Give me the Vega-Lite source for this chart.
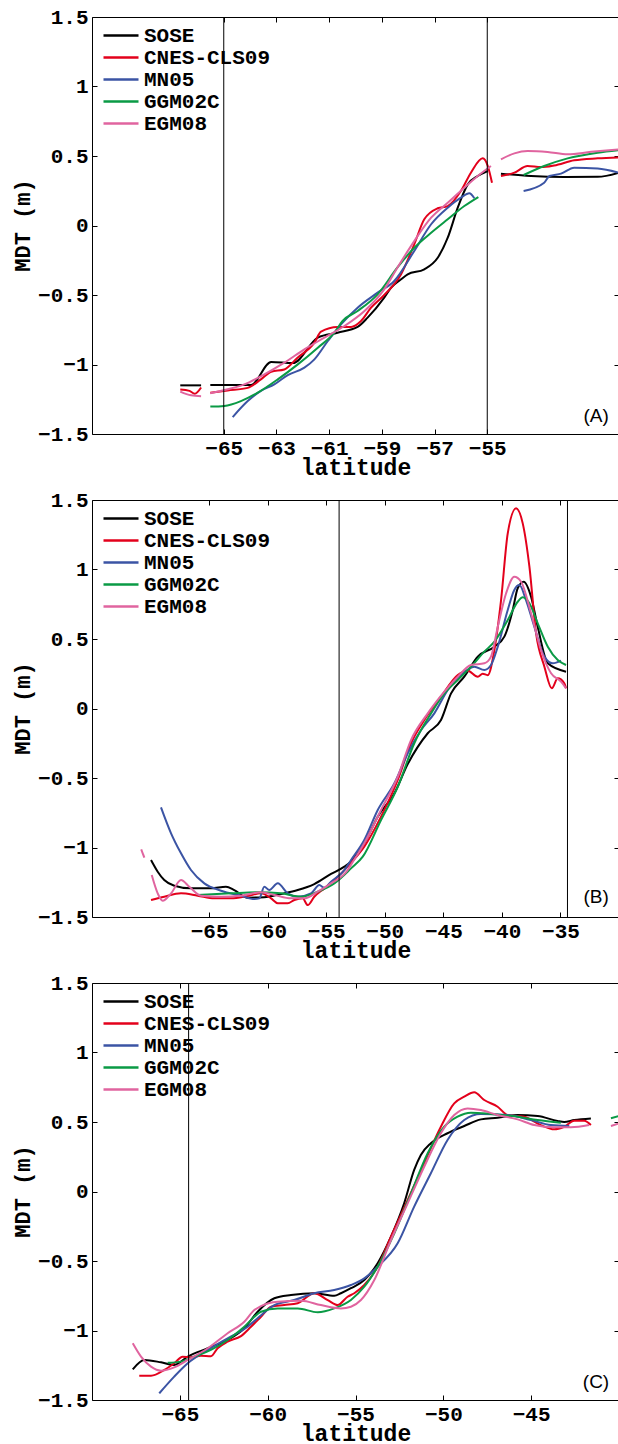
{
"$schema": "https://vega.github.io/schema/vega-lite/v6.json",
"autosize": {"type": "pad"},
"padding": {"left": 10, "top": 5, "right": 0, "bottom": 0},
"background": "white",
"bounds": "flush",
"spacing": 66,
"datasets": {
"curves": [
{"p":"A","m":"SOSE","s":1,"lat":-66.65,"mdt":-1.15},{"p":"A","m":"SOSE","s":1,"lat":-65.86,"mdt":-1.15},
{"p":"A","m":"SOSE","s":2,"lat":-65.51,"mdt":-1.147},{"p":"A","m":"SOSE","s":2,"lat":-63.97,"mdt":-1.147},{"p":"A","m":"SOSE","s":2,"lat":-63.2,"mdt":-0.982},{"p":"A","m":"SOSE","s":2,"lat":-62.38,"mdt":-0.99},{"p":"A","m":"SOSE","s":2,"lat":-61.43,"mdt":-0.807},{"p":"A","m":"SOSE","s":2,"lat":-60.68,"mdt":-0.771},{"p":"A","m":"SOSE","s":2,"lat":-59.92,"mdt":-0.73},{"p":"A","m":"SOSE","s":2,"lat":-59.54,"mdt":-0.663},{"p":"A","m":"SOSE","s":2,"lat":-58.91,"mdt":-0.519},{"p":"A","m":"SOSE","s":2,"lat":-58.65,"mdt":-0.447},{"p":"A","m":"SOSE","s":2,"lat":-58.27,"mdt":-0.387},{"p":"A","m":"SOSE","s":2,"lat":-58.02,"mdt":-0.351},{"p":"A","m":"SOSE","s":2,"lat":-57.39,"mdt":-0.315},{"p":"A","m":"SOSE","s":2,"lat":-56.88,"mdt":-0.232},{"p":"A","m":"SOSE","s":2,"lat":-56.5,"mdt":-0.088},{"p":"A","m":"SOSE","s":2,"lat":-56.12,"mdt":0.128},{"p":"A","m":"SOSE","s":2,"lat":-55.74,"mdt":0.296},{"p":"A","m":"SOSE","s":2,"lat":-55.36,"mdt":0.356},{"p":"A","m":"SOSE","s":2,"lat":-54.98,"mdt":0.392},
{"p":"A","m":"SOSE","s":3,"lat":-54.48,"mdt":0.373},{"p":"A","m":"SOSE","s":3,"lat":-53.34,"mdt":0.356},{"p":"A","m":"SOSE","s":3,"lat":-52.08,"mdt":0.349},{"p":"A","m":"SOSE","s":3,"lat":-50.81,"mdt":0.35},{"p":"A","m":"SOSE","s":3,"lat":-50,"mdt":0.38},
{"p":"A","m":"CNES-CLS09","s":1,"lat":-66.65,"mdt":-1.18},{"p":"A","m":"CNES-CLS09","s":1,"lat":-66.3,"mdt":-1.19},{"p":"A","m":"CNES-CLS09","s":1,"lat":-66.1,"mdt":-1.21},{"p":"A","m":"CNES-CLS09","s":1,"lat":-65.86,"mdt":-1.165},
{"p":"A","m":"CNES-CLS09","s":2,"lat":-65.51,"mdt":-1.203},{"p":"A","m":"CNES-CLS09","s":2,"lat":-64.85,"mdt":-1.187},{"p":"A","m":"CNES-CLS09","s":2,"lat":-64.09,"mdt":-1.168},{"p":"A","m":"CNES-CLS09","s":2,"lat":-63.59,"mdt":-1.107},{"p":"A","m":"CNES-CLS09","s":2,"lat":-63.2,"mdt":-1.052},{"p":"A","m":"CNES-CLS09","s":2,"lat":-62.7,"mdt":-1.036},{"p":"A","m":"CNES-CLS09","s":2,"lat":-62.2,"mdt":-0.951},{"p":"A","m":"CNES-CLS09","s":2,"lat":-61.56,"mdt":-0.843},{"p":"A","m":"CNES-CLS09","s":2,"lat":-61.31,"mdt":-0.764},{"p":"A","m":"CNES-CLS09","s":2,"lat":-60.68,"mdt":-0.73},{"p":"A","m":"CNES-CLS09","s":2,"lat":-60.17,"mdt":-0.73},{"p":"A","m":"CNES-CLS09","s":2,"lat":-59.79,"mdt":-0.687},{"p":"A","m":"CNES-CLS09","s":2,"lat":-59.41,"mdt":-0.591},{"p":"A","m":"CNES-CLS09","s":2,"lat":-58.91,"mdt":-0.5},{"p":"A","m":"CNES-CLS09","s":2,"lat":-58.27,"mdt":-0.35},{"p":"A","m":"CNES-CLS09","s":2,"lat":-57.77,"mdt":-0.135},{"p":"A","m":"CNES-CLS09","s":2,"lat":-57.39,"mdt":0.045},{"p":"A","m":"CNES-CLS09","s":2,"lat":-56.88,"mdt":0.124},{"p":"A","m":"CNES-CLS09","s":2,"lat":-56.5,"mdt":0.14},{"p":"A","m":"CNES-CLS09","s":2,"lat":-56.0,"mdt":0.248},{"p":"A","m":"CNES-CLS09","s":2,"lat":-55.62,"mdt":0.38},{"p":"A","m":"CNES-CLS09","s":2,"lat":-55.17,"mdt":0.483},{"p":"A","m":"CNES-CLS09","s":2,"lat":-54.98,"mdt":0.428},{"p":"A","m":"CNES-CLS09","s":2,"lat":-54.82,"mdt":0.308},
{"p":"A","m":"CNES-CLS09","s":3,"lat":-54.48,"mdt":0.356},{"p":"A","m":"CNES-CLS09","s":3,"lat":-53.97,"mdt":0.38},{"p":"A","m":"CNES-CLS09","s":3,"lat":-53.47,"mdt":0.428},{"p":"A","m":"CNES-CLS09","s":3,"lat":-52.96,"mdt":0.42},{"p":"A","m":"CNES-CLS09","s":3,"lat":-52.46,"mdt":0.432},{"p":"A","m":"CNES-CLS09","s":3,"lat":-51.7,"mdt":0.469},{"p":"A","m":"CNES-CLS09","s":3,"lat":-50.81,"mdt":0.483},{"p":"A","m":"CNES-CLS09","s":3,"lat":-50,"mdt":0.49},
{"p":"A","m":"MN05","s":2,"lat":-64.66,"mdt":-1.378},{"p":"A","m":"MN05","s":2,"lat":-64.09,"mdt":-1.263},{"p":"A","m":"MN05","s":2,"lat":-63.59,"mdt":-1.19},{"p":"A","m":"MN05","s":2,"lat":-63.08,"mdt":-1.143},{"p":"A","m":"MN05","s":2,"lat":-62.57,"mdt":-1.076},{"p":"A","m":"MN05","s":2,"lat":-61.94,"mdt":-1.023},{"p":"A","m":"MN05","s":2,"lat":-61.56,"mdt":-0.963},{"p":"A","m":"MN05","s":2,"lat":-61.05,"mdt":-0.831},{"p":"A","m":"MN05","s":2,"lat":-60.55,"mdt":-0.711},{"p":"A","m":"MN05","s":2,"lat":-59.92,"mdt":-0.591},{"p":"A","m":"MN05","s":2,"lat":-59.16,"mdt":-0.483},{"p":"A","m":"MN05","s":2,"lat":-58.53,"mdt":-0.399},{"p":"A","m":"MN05","s":2,"lat":-57.77,"mdt":-0.183},{"p":"A","m":"MN05","s":2,"lat":-57.13,"mdt":0.009},{"p":"A","m":"MN05","s":2,"lat":-56.5,"mdt":0.128},{"p":"A","m":"MN05","s":2,"lat":-56.0,"mdt":0.2},{"p":"A","m":"MN05","s":2,"lat":-55.68,"mdt":0.232},{"p":"A","m":"MN05","s":2,"lat":-55.49,"mdt":0.196},
{"p":"A","m":"MN05","s":3,"lat":-53.62,"mdt":0.248},{"p":"A","m":"MN05","s":3,"lat":-52.84,"mdt":0.308},{"p":"A","m":"MN05","s":3,"lat":-52.64,"mdt":0.356},{"p":"A","m":"MN05","s":3,"lat":-52.2,"mdt":0.373},{"p":"A","m":"MN05","s":3,"lat":-51.7,"mdt":0.416},{"p":"A","m":"MN05","s":3,"lat":-50.81,"mdt":0.41},{"p":"A","m":"MN05","s":3,"lat":-50,"mdt":0.38},
{"p":"A","m":"GGM02C","s":2,"lat":-65.51,"mdt":-1.303},{"p":"A","m":"GGM02C","s":2,"lat":-64.98,"mdt":-1.298},{"p":"A","m":"GGM02C","s":2,"lat":-64.35,"mdt":-1.263},{"p":"A","m":"GGM02C","s":2,"lat":-63.71,"mdt":-1.203},{"p":"A","m":"GGM02C","s":2,"lat":-62.95,"mdt":-1.107},{"p":"A","m":"GGM02C","s":2,"lat":-62.19,"mdt":-0.999},{"p":"A","m":"GGM02C","s":2,"lat":-61.43,"mdt":-0.879},{"p":"A","m":"GGM02C","s":2,"lat":-60.8,"mdt":-0.771},{"p":"A","m":"GGM02C","s":2,"lat":-60.49,"mdt":-0.687},{"p":"A","m":"GGM02C","s":2,"lat":-59.92,"mdt":-0.615},{"p":"A","m":"GGM02C","s":2,"lat":-59.16,"mdt":-0.495},{"p":"A","m":"GGM02C","s":2,"lat":-58.4,"mdt":-0.3},{"p":"A","m":"GGM02C","s":2,"lat":-57.77,"mdt":-0.16},{"p":"A","m":"GGM02C","s":2,"lat":-57.13,"mdt":-0.052},{"p":"A","m":"GGM02C","s":2,"lat":-56.5,"mdt":0.045},{"p":"A","m":"GGM02C","s":2,"lat":-55.87,"mdt":0.14},{"p":"A","m":"GGM02C","s":2,"lat":-55.34,"mdt":0.205},
{"p":"A","m":"GGM02C","s":3,"lat":-53.62,"mdt":0.363},{"p":"A","m":"GGM02C","s":3,"lat":-52.84,"mdt":0.428},{"p":"A","m":"GGM02C","s":3,"lat":-51.95,"mdt":0.483},{"p":"A","m":"GGM02C","s":3,"lat":-50.81,"mdt":0.524},{"p":"A","m":"GGM02C","s":3,"lat":-50,"mdt":0.543},
{"p":"A","m":"EGM08","s":1,"lat":-66.65,"mdt":-1.195},{"p":"A","m":"EGM08","s":1,"lat":-66.24,"mdt":-1.222},{"p":"A","m":"EGM08","s":1,"lat":-65.86,"mdt":-1.228},
{"p":"A","m":"EGM08","s":2,"lat":-65.51,"mdt":-1.207},{"p":"A","m":"EGM08","s":2,"lat":-64.85,"mdt":-1.178},{"p":"A","m":"EGM08","s":2,"lat":-64.22,"mdt":-1.143},{"p":"A","m":"EGM08","s":2,"lat":-63.46,"mdt":-1.071},{"p":"A","m":"EGM08","s":2,"lat":-62.7,"mdt":-0.987},{"p":"A","m":"EGM08","s":2,"lat":-61.94,"mdt":-0.891},{"p":"A","m":"EGM08","s":2,"lat":-61.18,"mdt":-0.807},{"p":"A","m":"EGM08","s":2,"lat":-60.42,"mdt":-0.723},{"p":"A","m":"EGM08","s":2,"lat":-59.66,"mdt":-0.615},{"p":"A","m":"EGM08","s":2,"lat":-58.91,"mdt":-0.459},{"p":"A","m":"EGM08","s":2,"lat":-58.4,"mdt":-0.3},{"p":"A","m":"EGM08","s":2,"lat":-57.77,"mdt":-0.112},{"p":"A","m":"EGM08","s":2,"lat":-57.13,"mdt":0.056},{"p":"A","m":"EGM08","s":2,"lat":-56.5,"mdt":0.164},{"p":"A","m":"EGM08","s":2,"lat":-55.87,"mdt":0.272},{"p":"A","m":"EGM08","s":2,"lat":-55.36,"mdt":0.356},{"p":"A","m":"EGM08","s":2,"lat":-54.86,"mdt":0.428},
{"p":"A","m":"EGM08","s":3,"lat":-54.48,"mdt":0.476},{"p":"A","m":"EGM08","s":3,"lat":-53.97,"mdt":0.519},{"p":"A","m":"EGM08","s":3,"lat":-53.47,"mdt":0.536},{"p":"A","m":"EGM08","s":3,"lat":-52.71,"mdt":0.529},{"p":"A","m":"EGM08","s":3,"lat":-51.95,"mdt":0.512},{"p":"A","m":"EGM08","s":3,"lat":-51.06,"mdt":0.53},{"p":"A","m":"EGM08","s":3,"lat":-50,"mdt":0.548},

{"p":"B","m":"SOSE","s":1,"lat":-69.96,"mdt":-1.09},{"p":"B","m":"SOSE","s":1,"lat":-69.39,"mdt":-1.174},{"p":"B","m":"SOSE","s":1,"lat":-68.83,"mdt":-1.234},{"p":"B","m":"SOSE","s":1,"lat":-67.97,"mdt":-1.275},{"p":"B","m":"SOSE","s":1,"lat":-66.55,"mdt":-1.294},{"p":"B","m":"SOSE","s":1,"lat":-64.84,"mdt":-1.294},{"p":"B","m":"SOSE","s":1,"lat":-63.56,"mdt":-1.282},{"p":"B","m":"SOSE","s":1,"lat":-62.85,"mdt":-1.306},{"p":"B","m":"SOSE","s":1,"lat":-61.71,"mdt":-1.361},{"p":"B","m":"SOSE","s":1,"lat":-60.29,"mdt":-1.358},{"p":"B","m":"SOSE","s":1,"lat":-58.86,"mdt":-1.334},{"p":"B","m":"SOSE","s":1,"lat":-57.43,"mdt":-1.306},{"p":"B","m":"SOSE","s":1,"lat":-56.02,"mdt":-1.263},{"p":"B","m":"SOSE","s":1,"lat":-54.59,"mdt":-1.19},{"p":"B","m":"SOSE","s":1,"lat":-53.45,"mdt":-1.138},{"p":"B","m":"SOSE","s":1,"lat":-52.88,"mdt":-1.1},{"p":"B","m":"SOSE","s":1,"lat":-51.75,"mdt":-0.97},{"p":"B","m":"SOSE","s":1,"lat":-50.6,"mdt":-0.778},{"p":"B","m":"SOSE","s":1,"lat":-49.18,"mdt":-0.61},{"p":"B","m":"SOSE","s":1,"lat":-48.04,"mdt":-0.4},{"p":"B","m":"SOSE","s":1,"lat":-46.33,"mdt":-0.178},{"p":"B","m":"SOSE","s":1,"lat":-45.2,"mdt":-0.083},{"p":"B","m":"SOSE","s":1,"lat":-44.34,"mdt":0.109},{"p":"B","m":"SOSE","s":1,"lat":-43.21,"mdt":0.229},{"p":"B","m":"SOSE","s":1,"lat":-42.06,"mdt":0.373},{"p":"B","m":"SOSE","s":1,"lat":-40.64,"mdt":0.445},{"p":"B","m":"SOSE","s":1,"lat":-39.79,"mdt":0.517},{"p":"B","m":"SOSE","s":1,"lat":-39.07,"mdt":0.709},{"p":"B","m":"SOSE","s":1,"lat":-38.65,"mdt":0.865},{"p":"B","m":"SOSE","s":1,"lat":-38.13,"mdt":0.912},{"p":"B","m":"SOSE","s":1,"lat":-37.51,"mdt":0.804},{"p":"B","m":"SOSE","s":1,"lat":-36.94,"mdt":0.588},{"p":"B","m":"SOSE","s":1,"lat":-36.08,"mdt":0.325},{"p":"B","m":"SOSE","s":1,"lat":-34.52,"mdt":0.265},
{"p":"B","m":"CNES-CLS09","s":1,"lat":-69.96,"mdt":-1.378},{"p":"B","m":"CNES-CLS09","s":1,"lat":-68.83,"mdt":-1.354},{"p":"B","m":"CNES-CLS09","s":1,"lat":-67.4,"mdt":-1.33},{"p":"B","m":"CNES-CLS09","s":1,"lat":-65.97,"mdt":-1.347},{"p":"B","m":"CNES-CLS09","s":1,"lat":-64.56,"mdt":-1.366},{"p":"B","m":"CNES-CLS09","s":1,"lat":-63.13,"mdt":-1.366},{"p":"B","m":"CNES-CLS09","s":1,"lat":-61.71,"mdt":-1.349},{"p":"B","m":"CNES-CLS09","s":1,"lat":-60.57,"mdt":-1.33},{"p":"B","m":"CNES-CLS09","s":1,"lat":-59.71,"mdt":-1.366},{"p":"B","m":"CNES-CLS09","s":1,"lat":-59.14,"mdt":-1.401},{"p":"B","m":"CNES-CLS09","s":1,"lat":-58.29,"mdt":-1.401},{"p":"B","m":"CNES-CLS09","s":1,"lat":-57.72,"mdt":-1.378},{"p":"B","m":"CNES-CLS09","s":1,"lat":-57.01,"mdt":-1.366},{"p":"B","m":"CNES-CLS09","s":1,"lat":-56.58,"mdt":-1.414},{"p":"B","m":"CNES-CLS09","s":1,"lat":-56.02,"mdt":-1.354},{"p":"B","m":"CNES-CLS09","s":1,"lat":-55.16,"mdt":-1.294},{"p":"B","m":"CNES-CLS09","s":1,"lat":-54.31,"mdt":-1.234},{"p":"B","m":"CNES-CLS09","s":1,"lat":-52.88,"mdt":-1.11},{"p":"B","m":"CNES-CLS09","s":1,"lat":-51.75,"mdt":-0.994},{"p":"B","m":"CNES-CLS09","s":1,"lat":-50.32,"mdt":-0.778},{"p":"B","m":"CNES-CLS09","s":1,"lat":-48.89,"mdt":-0.514},{"p":"B","m":"CNES-CLS09","s":1,"lat":-47.76,"mdt":-0.25},{"p":"B","m":"CNES-CLS09","s":1,"lat":-46.62,"mdt":-0.083},{"p":"B","m":"CNES-CLS09","s":1,"lat":-45.2,"mdt":0.085},{"p":"B","m":"CNES-CLS09","s":1,"lat":-43.77,"mdt":0.241},{"p":"B","m":"CNES-CLS09","s":1,"lat":-42.92,"mdt":0.272},{"p":"B","m":"CNES-CLS09","s":1,"lat":-42.06,"mdt":0.229},{"p":"B","m":"CNES-CLS09","s":1,"lat":-41.64,"mdt":0.25},{"p":"B","m":"CNES-CLS09","s":1,"lat":-41.21,"mdt":0.24},{"p":"B","m":"CNES-CLS09","s":1,"lat":-40.64,"mdt":0.421},{"p":"B","m":"CNES-CLS09","s":1,"lat":-40.07,"mdt":0.78},{"p":"B","m":"CNES-CLS09","s":1,"lat":-39.5,"mdt":1.26},{"p":"B","m":"CNES-CLS09","s":1,"lat":-38.79,"mdt":1.44},{"p":"B","m":"CNES-CLS09","s":1,"lat":-38.22,"mdt":1.332},{"p":"B","m":"CNES-CLS09","s":1,"lat":-37.65,"mdt":1.02},{"p":"B","m":"CNES-CLS09","s":1,"lat":-37.08,"mdt":0.541},{"p":"B","m":"CNES-CLS09","s":1,"lat":-36.37,"mdt":0.301},{"p":"B","m":"CNES-CLS09","s":1,"lat":-35.74,"mdt":0.145},{"p":"B","m":"CNES-CLS09","s":1,"lat":-35.23,"mdt":0.217},{"p":"B","m":"CNES-CLS09","s":1,"lat":-34.67,"mdt":0.181},{"p":"B","m":"CNES-CLS09","s":1,"lat":-34.52,"mdt":0.145},
{"p":"B","m":"MN05","s":1,"lat":-69.11,"mdt":-0.711},{"p":"B","m":"MN05","s":1,"lat":-68.25,"mdt":-0.898},{"p":"B","m":"MN05","s":1,"lat":-67.4,"mdt":-1.042},{"p":"B","m":"MN05","s":1,"lat":-66.55,"mdt":-1.162},{"p":"B","m":"MN05","s":1,"lat":-65.41,"mdt":-1.258},{"p":"B","m":"MN05","s":1,"lat":-63.98,"mdt":-1.311},{"p":"B","m":"MN05","s":1,"lat":-62.28,"mdt":-1.347},{"p":"B","m":"MN05","s":1,"lat":-61.14,"mdt":-1.371},{"p":"B","m":"MN05","s":1,"lat":-60.71,"mdt":-1.366},{"p":"B","m":"MN05","s":1,"lat":-60.29,"mdt":-1.282},{"p":"B","m":"MN05","s":1,"lat":-59.86,"mdt":-1.306},{"p":"B","m":"MN05","s":1,"lat":-59.14,"mdt":-1.258},{"p":"B","m":"MN05","s":1,"lat":-58.29,"mdt":-1.33},{"p":"B","m":"MN05","s":1,"lat":-57.43,"mdt":-1.354},{"p":"B","m":"MN05","s":1,"lat":-56.3,"mdt":-1.33},{"p":"B","m":"MN05","s":1,"lat":-55.59,"mdt":-1.27},{"p":"B","m":"MN05","s":1,"lat":-55.16,"mdt":-1.29},{"p":"B","m":"MN05","s":1,"lat":-54.59,"mdt":-1.246},{"p":"B","m":"MN05","s":1,"lat":-53.45,"mdt":-1.162},{"p":"B","m":"MN05","s":1,"lat":-52.88,"mdt":-1.09},{"p":"B","m":"MN05","s":1,"lat":-51.75,"mdt":-0.946},{"p":"B","m":"MN05","s":1,"lat":-50.6,"mdt":-0.73},{"p":"B","m":"MN05","s":1,"lat":-49.18,"mdt":-0.538},{"p":"B","m":"MN05","s":1,"lat":-48.04,"mdt":-0.322},{"p":"B","m":"MN05","s":1,"lat":-46.9,"mdt":-0.155},{"p":"B","m":"MN05","s":1,"lat":-45.77,"mdt":-0.035},{"p":"B","m":"MN05","s":1,"lat":-44.62,"mdt":0.133},{"p":"B","m":"MN05","s":1,"lat":-43.49,"mdt":0.241},{"p":"B","m":"MN05","s":1,"lat":-42.35,"mdt":0.301},{"p":"B","m":"MN05","s":1,"lat":-41.5,"mdt":0.277},{"p":"B","m":"MN05","s":1,"lat":-40.93,"mdt":0.313},{"p":"B","m":"MN05","s":1,"lat":-40.35,"mdt":0.445},{"p":"B","m":"MN05","s":1,"lat":-39.5,"mdt":0.709},{"p":"B","m":"MN05","s":1,"lat":-38.94,"mdt":0.853},{"p":"B","m":"MN05","s":1,"lat":-38.51,"mdt":0.888},{"p":"B","m":"MN05","s":1,"lat":-37.94,"mdt":0.78},{"p":"B","m":"MN05","s":1,"lat":-37.23,"mdt":0.588},{"p":"B","m":"MN05","s":1,"lat":-36.37,"mdt":0.373},{"p":"B","m":"MN05","s":1,"lat":-35.66,"mdt":0.325},{"p":"B","m":"MN05","s":1,"lat":-34.95,"mdt":0.344},
{"p":"B","m":"GGM02C","s":1,"lat":-65.97,"mdt":-1.342},{"p":"B","m":"GGM02C","s":1,"lat":-63.13,"mdt":-1.33},{"p":"B","m":"GGM02C","s":1,"lat":-60.85,"mdt":-1.322},{"p":"B","m":"GGM02C","s":1,"lat":-58.86,"mdt":-1.33},{"p":"B","m":"GGM02C","s":1,"lat":-57.15,"mdt":-1.354},{"p":"B","m":"GGM02C","s":1,"lat":-55.73,"mdt":-1.318},{"p":"B","m":"GGM02C","s":1,"lat":-54.31,"mdt":-1.258},{"p":"B","m":"GGM02C","s":1,"lat":-52.88,"mdt":-1.15},{"p":"B","m":"GGM02C","s":1,"lat":-51.88,"mdt":-1.066},{"p":"B","m":"GGM02C","s":1,"lat":-50.32,"mdt":-0.802},{"p":"B","m":"GGM02C","s":1,"lat":-48.89,"mdt":-0.563},{"p":"B","m":"GGM02C","s":1,"lat":-47.48,"mdt":-0.25},{"p":"B","m":"GGM02C","s":1,"lat":-46.05,"mdt":-0.035},{"p":"B","m":"GGM02C","s":1,"lat":-44.91,"mdt":0.109},{"p":"B","m":"GGM02C","s":1,"lat":-43.77,"mdt":0.205},{"p":"B","m":"GGM02C","s":1,"lat":-42.63,"mdt":0.301},{"p":"B","m":"GGM02C","s":1,"lat":-41.5,"mdt":0.409},{"p":"B","m":"GGM02C","s":1,"lat":-40.64,"mdt":0.481},{"p":"B","m":"GGM02C","s":1,"lat":-39.5,"mdt":0.637},{"p":"B","m":"GGM02C","s":1,"lat":-38.65,"mdt":0.768},{"p":"B","m":"GGM02C","s":1,"lat":-38.22,"mdt":0.8},{"p":"B","m":"GGM02C","s":1,"lat":-37.65,"mdt":0.757},{"p":"B","m":"GGM02C","s":1,"lat":-36.94,"mdt":0.613},{"p":"B","m":"GGM02C","s":1,"lat":-36.08,"mdt":0.445},{"p":"B","m":"GGM02C","s":1,"lat":-35.23,"mdt":0.349},{"p":"B","m":"GGM02C","s":1,"lat":-34.52,"mdt":0.313},
{"p":"B","m":"EGM08","s":1,"lat":-70.8,"mdt":-1.013},{"p":"B","m":"EGM08","s":1,"lat":-70.53,"mdt":-1.073},
{"p":"B","m":"EGM08","s":2,"lat":-69.9,"mdt":-1.198},{"p":"B","m":"EGM08","s":2,"lat":-69.39,"mdt":-1.33},{"p":"B","m":"EGM08","s":2,"lat":-68.97,"mdt":-1.383},{"p":"B","m":"EGM08","s":2,"lat":-68.25,"mdt":-1.33},{"p":"B","m":"EGM08","s":2,"lat":-67.4,"mdt":-1.234},{"p":"B","m":"EGM08","s":2,"lat":-66.69,"mdt":-1.282},{"p":"B","m":"EGM08","s":2,"lat":-65.69,"mdt":-1.347},{"p":"B","m":"EGM08","s":2,"lat":-63.98,"mdt":-1.354},{"p":"B","m":"EGM08","s":2,"lat":-62.28,"mdt":-1.347},{"p":"B","m":"EGM08","s":2,"lat":-60.57,"mdt":-1.322},{"p":"B","m":"EGM08","s":2,"lat":-59.43,"mdt":-1.342},{"p":"B","m":"EGM08","s":2,"lat":-58.0,"mdt":-1.366},{"p":"B","m":"EGM08","s":2,"lat":-56.87,"mdt":-1.366},{"p":"B","m":"EGM08","s":2,"lat":-55.73,"mdt":-1.318},{"p":"B","m":"EGM08","s":2,"lat":-54.59,"mdt":-1.258},{"p":"B","m":"EGM08","s":2,"lat":-53.16,"mdt":-1.162},{"p":"B","m":"EGM08","s":2,"lat":-52.88,"mdt":-1.124},{"p":"B","m":"EGM08","s":2,"lat":-51.75,"mdt":-0.97},{"p":"B","m":"EGM08","s":2,"lat":-50.32,"mdt":-0.73},{"p":"B","m":"EGM08","s":2,"lat":-48.89,"mdt":-0.491},{"p":"B","m":"EGM08","s":2,"lat":-47.76,"mdt":-0.227},{"p":"B","m":"EGM08","s":2,"lat":-46.33,"mdt":-0.035},{"p":"B","m":"EGM08","s":2,"lat":-44.91,"mdt":0.121},{"p":"B","m":"EGM08","s":2,"lat":-43.77,"mdt":0.229},{"p":"B","m":"EGM08","s":2,"lat":-42.63,"mdt":0.313},{"p":"B","m":"EGM08","s":2,"lat":-41.5,"mdt":0.325},{"p":"B","m":"EGM08","s":2,"lat":-40.93,"mdt":0.373},{"p":"B","m":"EGM08","s":2,"lat":-40.35,"mdt":0.588},{"p":"B","m":"EGM08","s":2,"lat":-39.64,"mdt":0.829},{"p":"B","m":"EGM08","s":2,"lat":-38.94,"mdt":0.948},{"p":"B","m":"EGM08","s":2,"lat":-38.36,"mdt":0.912},{"p":"B","m":"EGM08","s":2,"lat":-37.51,"mdt":0.685},{"p":"B","m":"EGM08","s":2,"lat":-36.66,"mdt":0.421},{"p":"B","m":"EGM08","s":2,"lat":-35.8,"mdt":0.253},{"p":"B","m":"EGM08","s":2,"lat":-34.95,"mdt":0.193},{"p":"B","m":"EGM08","s":2,"lat":-34.52,"mdt":0.145},

{"p":"C","m":"SOSE","s":1,"lat":-67.68,"mdt":-1.279},{"p":"C","m":"SOSE","s":1,"lat":-67.02,"mdt":-1.212},{"p":"C","m":"SOSE","s":1,"lat":-66.07,"mdt":-1.229},{"p":"C","m":"SOSE","s":1,"lat":-65.32,"mdt":-1.248},{"p":"C","m":"SOSE","s":1,"lat":-64.55,"mdt":-1.188},{"p":"C","m":"SOSE","s":1,"lat":-63.41,"mdt":-1.128},{"p":"C","m":"SOSE","s":1,"lat":-62.28,"mdt":-1.068},{"p":"C","m":"SOSE","s":1,"lat":-61.33,"mdt":-0.984},{"p":"C","m":"SOSE","s":1,"lat":-60.57,"mdt":-0.865},{"p":"C","m":"SOSE","s":1,"lat":-59.62,"mdt":-0.768},{"p":"C","m":"SOSE","s":1,"lat":-58.67,"mdt":-0.745},{"p":"C","m":"SOSE","s":1,"lat":-57.35,"mdt":-0.732},{"p":"C","m":"SOSE","s":1,"lat":-56.21,"mdt":-0.75},{"p":"C","m":"SOSE","s":1,"lat":-55.83,"mdt":-0.732},{"p":"C","m":"SOSE","s":1,"lat":-55.26,"mdt":-0.696},{"p":"C","m":"SOSE","s":1,"lat":-54.5,"mdt":-0.637},{"p":"C","m":"SOSE","s":1,"lat":-53.74,"mdt":-0.516},{"p":"C","m":"SOSE","s":1,"lat":-52.98,"mdt":-0.325},{"p":"C","m":"SOSE","s":1,"lat":-52.23,"mdt":-0.085},{"p":"C","m":"SOSE","s":1,"lat":-51.66,"mdt":0.155},{"p":"C","m":"SOSE","s":1,"lat":-51.28,"mdt":0.263},{"p":"C","m":"SOSE","s":1,"lat":-50.71,"mdt":0.347},{"p":"C","m":"SOSE","s":1,"lat":-49.76,"mdt":0.419},{"p":"C","m":"SOSE","s":1,"lat":-48.81,"mdt":0.471},{"p":"C","m":"SOSE","s":1,"lat":-47.86,"mdt":0.519},{"p":"C","m":"SOSE","s":1,"lat":-46.91,"mdt":0.531},{"p":"C","m":"SOSE","s":1,"lat":-45.77,"mdt":0.55},{"p":"C","m":"SOSE","s":1,"lat":-44.63,"mdt":0.543},{"p":"C","m":"SOSE","s":1,"lat":-43.5,"mdt":0.507},{"p":"C","m":"SOSE","s":1,"lat":-43.12,"mdt":0.5},{"p":"C","m":"SOSE","s":1,"lat":-42.55,"mdt":0.514},{"p":"C","m":"SOSE","s":1,"lat":-41.6,"mdt":0.526},
{"p":"C","m":"CNES-CLS09","s":1,"lat":-67.31,"mdt":-1.325},{"p":"C","m":"CNES-CLS09","s":1,"lat":-66.64,"mdt":-1.325},{"p":"C","m":"CNES-CLS09","s":1,"lat":-65.88,"mdt":-1.284},{"p":"C","m":"CNES-CLS09","s":1,"lat":-65.32,"mdt":-1.236},{"p":"C","m":"CNES-CLS09","s":1,"lat":-64.84,"mdt":-1.188},{"p":"C","m":"CNES-CLS09","s":1,"lat":-64.37,"mdt":-1.192},{"p":"C","m":"CNES-CLS09","s":1,"lat":-63.8,"mdt":-1.181},{"p":"C","m":"CNES-CLS09","s":1,"lat":-63.23,"mdt":-1.185},{"p":"C","m":"CNES-CLS09","s":1,"lat":-62.85,"mdt":-1.128},{"p":"C","m":"CNES-CLS09","s":1,"lat":-62.28,"mdt":-1.08},{"p":"C","m":"CNES-CLS09","s":1,"lat":-61.52,"mdt":-1.04},{"p":"C","m":"CNES-CLS09","s":1,"lat":-60.95,"mdt":-0.973},{"p":"C","m":"CNES-CLS09","s":1,"lat":-60.38,"mdt":-0.901},{"p":"C","m":"CNES-CLS09","s":1,"lat":-59.81,"mdt":-0.829},{"p":"C","m":"CNES-CLS09","s":1,"lat":-59.06,"mdt":-0.817},{"p":"C","m":"CNES-CLS09","s":1,"lat":-58.29,"mdt":-0.804},{"p":"C","m":"CNES-CLS09","s":1,"lat":-57.35,"mdt":-0.732},{"p":"C","m":"CNES-CLS09","s":1,"lat":-56.58,"mdt":-0.781},{"p":"C","m":"CNES-CLS09","s":1,"lat":-56.02,"mdt":-0.817},{"p":"C","m":"CNES-CLS09","s":1,"lat":-55.45,"mdt":-0.757},{"p":"C","m":"CNES-CLS09","s":1,"lat":-55.07,"mdt":-0.732},{"p":"C","m":"CNES-CLS09","s":1,"lat":-54.5,"mdt":-0.673},{"p":"C","m":"CNES-CLS09","s":1,"lat":-53.74,"mdt":-0.541},{"p":"C","m":"CNES-CLS09","s":1,"lat":-52.98,"mdt":-0.325},{"p":"C","m":"CNES-CLS09","s":1,"lat":-52.03,"mdt":-0.061},{"p":"C","m":"CNES-CLS09","s":1,"lat":-51.09,"mdt":0.203},{"p":"C","m":"CNES-CLS09","s":1,"lat":-50.14,"mdt":0.466},{"p":"C","m":"CNES-CLS09","s":1,"lat":-49.38,"mdt":0.634},{"p":"C","m":"CNES-CLS09","s":1,"lat":-48.81,"mdt":0.682},{"p":"C","m":"CNES-CLS09","s":1,"lat":-48.24,"mdt":0.714},{"p":"C","m":"CNES-CLS09","s":1,"lat":-47.67,"mdt":0.658},{"p":"C","m":"CNES-CLS09","s":1,"lat":-46.91,"mdt":0.61},{"p":"C","m":"CNES-CLS09","s":1,"lat":-46.34,"mdt":0.55},{"p":"C","m":"CNES-CLS09","s":1,"lat":-45.4,"mdt":0.538},{"p":"C","m":"CNES-CLS09","s":1,"lat":-44.45,"mdt":0.478},{"p":"C","m":"CNES-CLS09","s":1,"lat":-43.69,"mdt":0.447},{"p":"C","m":"CNES-CLS09","s":1,"lat":-43.12,"mdt":0.466},{"p":"C","m":"CNES-CLS09","s":1,"lat":-42.55,"mdt":0.509},{"p":"C","m":"CNES-CLS09","s":1,"lat":-41.98,"mdt":0.509},{"p":"C","m":"CNES-CLS09","s":1,"lat":-41.6,"mdt":0.478},
{"p":"C","m":"MN05","s":1,"lat":-66.17,"mdt":-1.452},{"p":"C","m":"MN05","s":1,"lat":-65.32,"mdt":-1.332},{"p":"C","m":"MN05","s":1,"lat":-64.55,"mdt":-1.236},{"p":"C","m":"MN05","s":1,"lat":-63.41,"mdt":-1.14},{"p":"C","m":"MN05","s":1,"lat":-62.28,"mdt":-1.056},{"p":"C","m":"MN05","s":1,"lat":-61.14,"mdt":-0.973},{"p":"C","m":"MN05","s":1,"lat":-60.48,"mdt":-0.901},{"p":"C","m":"MN05","s":1,"lat":-59.62,"mdt":-0.817},{"p":"C","m":"MN05","s":1,"lat":-58.49,"mdt":-0.781},{"p":"C","m":"MN05","s":1,"lat":-57.35,"mdt":-0.732},{"p":"C","m":"MN05","s":1,"lat":-56.21,"mdt":-0.709},{"p":"C","m":"MN05","s":1,"lat":-55.26,"mdt":-0.673},{"p":"C","m":"MN05","s":1,"lat":-54.5,"mdt":-0.625},{"p":"C","m":"MN05","s":1,"lat":-53.74,"mdt":-0.541},{"p":"C","m":"MN05","s":1,"lat":-52.6,"mdt":-0.373},{"p":"C","m":"MN05","s":1,"lat":-51.66,"mdt":-0.109},{"p":"C","m":"MN05","s":1,"lat":-50.71,"mdt":0.131},{"p":"C","m":"MN05","s":1,"lat":-49.76,"mdt":0.371},{"p":"C","m":"MN05","s":1,"lat":-48.81,"mdt":0.514},{"p":"C","m":"MN05","s":1,"lat":-47.86,"mdt":0.558},{"p":"C","m":"MN05","s":1,"lat":-46.34,"mdt":0.55},{"p":"C","m":"MN05","s":1,"lat":-45.01,"mdt":0.514},{"p":"C","m":"MN05","s":1,"lat":-43.88,"mdt":0.478},{"p":"C","m":"MN05","s":1,"lat":-42.83,"mdt":0.471},
{"p":"C","m":"GGM02C","s":1,"lat":-65.69,"mdt":-1.232},{"p":"C","m":"GGM02C","s":1,"lat":-64.93,"mdt":-1.224},{"p":"C","m":"GGM02C","s":1,"lat":-64.18,"mdt":-1.188},{"p":"C","m":"GGM02C","s":1,"lat":-63.23,"mdt":-1.14},{"p":"C","m":"GGM02C","s":1,"lat":-62.28,"mdt":-1.068},{"p":"C","m":"GGM02C","s":1,"lat":-61.33,"mdt":-0.973},{"p":"C","m":"GGM02C","s":1,"lat":-60.38,"mdt":-0.865},{"p":"C","m":"GGM02C","s":1,"lat":-59.43,"mdt":-0.841},{"p":"C","m":"GGM02C","s":1,"lat":-58.29,"mdt":-0.841},{"p":"C","m":"GGM02C","s":1,"lat":-57.15,"mdt":-0.869},{"p":"C","m":"GGM02C","s":1,"lat":-56.21,"mdt":-0.841},{"p":"C","m":"GGM02C","s":1,"lat":-55.26,"mdt":-0.78},{"p":"C","m":"GGM02C","s":1,"lat":-54.5,"mdt":-0.685},{"p":"C","m":"GGM02C","s":1,"lat":-53.74,"mdt":-0.541},{"p":"C","m":"GGM02C","s":1,"lat":-52.79,"mdt":-0.301},{"p":"C","m":"GGM02C","s":1,"lat":-51.84,"mdt":-0.013},{"p":"C","m":"GGM02C","s":1,"lat":-50.89,"mdt":0.275},{"p":"C","m":"GGM02C","s":1,"lat":-49.95,"mdt":0.466},{"p":"C","m":"GGM02C","s":1,"lat":-49.19,"mdt":0.538},{"p":"C","m":"GGM02C","s":1,"lat":-48.43,"mdt":0.567},{"p":"C","m":"GGM02C","s":1,"lat":-47.29,"mdt":0.558},{"p":"C","m":"GGM02C","s":1,"lat":-45.77,"mdt":0.538},{"p":"C","m":"GGM02C","s":1,"lat":-44.63,"mdt":0.514},{"p":"C","m":"GGM02C","s":1,"lat":-43.31,"mdt":0.495},
{"p":"C","m":"GGM02C","s":2,"lat":-40.46,"mdt":0.527},{"p":"C","m":"GGM02C","s":2,"lat":-40,"mdt":0.543},
{"p":"C","m":"EGM08","s":1,"lat":-67.68,"mdt":-1.092},{"p":"C","m":"EGM08","s":1,"lat":-67.21,"mdt":-1.188},{"p":"C","m":"EGM08","s":1,"lat":-66.64,"mdt":-1.26},{"p":"C","m":"EGM08","s":1,"lat":-66.07,"mdt":-1.289},{"p":"C","m":"EGM08","s":1,"lat":-65.32,"mdt":-1.265},{"p":"C","m":"EGM08","s":1,"lat":-64.55,"mdt":-1.212},{"p":"C","m":"EGM08","s":1,"lat":-63.41,"mdt":-1.128},{"p":"C","m":"EGM08","s":1,"lat":-62.28,"mdt":-1.02},{"p":"C","m":"EGM08","s":1,"lat":-61.33,"mdt":-0.937},{"p":"C","m":"EGM08","s":1,"lat":-60.76,"mdt":-0.853},{"p":"C","m":"EGM08","s":1,"lat":-60.38,"mdt":-0.824},{"p":"C","m":"EGM08","s":1,"lat":-59.43,"mdt":-0.793},{"p":"C","m":"EGM08","s":1,"lat":-58.1,"mdt":-0.786},{"p":"C","m":"EGM08","s":1,"lat":-56.97,"mdt":-0.817},{"p":"C","m":"EGM08","s":1,"lat":-55.83,"mdt":-0.841},{"p":"C","m":"EGM08","s":1,"lat":-55.26,"mdt":-0.829},{"p":"C","m":"EGM08","s":1,"lat":-54.69,"mdt":-0.781},{"p":"C","m":"EGM08","s":1,"lat":-53.93,"mdt":-0.637},{"p":"C","m":"EGM08","s":1,"lat":-52.98,"mdt":-0.349},{"p":"C","m":"EGM08","s":1,"lat":-52.03,"mdt":-0.085},{"p":"C","m":"EGM08","s":1,"lat":-51.09,"mdt":0.178},{"p":"C","m":"EGM08","s":1,"lat":-50.14,"mdt":0.419},{"p":"C","m":"EGM08","s":1,"lat":-49.38,"mdt":0.55},{"p":"C","m":"EGM08","s":1,"lat":-48.62,"mdt":0.598},{"p":"C","m":"EGM08","s":1,"lat":-47.86,"mdt":0.586},{"p":"C","m":"EGM08","s":1,"lat":-46.91,"mdt":0.55},{"p":"C","m":"EGM08","s":1,"lat":-45.77,"mdt":0.519},{"p":"C","m":"EGM08","s":1,"lat":-44.82,"mdt":0.478},{"p":"C","m":"EGM08","s":1,"lat":-43.69,"mdt":0.462},{"p":"C","m":"EGM08","s":1,"lat":-42.74,"mdt":0.462},{"p":"C","m":"EGM08","s":1,"lat":-41.7,"mdt":0.478},
{"p":"C","m":"EGM08","s":2,"lat":-40.46,"mdt":0.471},{"p":"C","m":"EGM08","s":2,"lat":-40,"mdt":0.49}
],
"vlines": [{"p":"A","lat":-65},{"p":"A","lat":-55},{"p":"B","lat":-53.9},{"p":"B","lat":-34.4},{"p":"C","lat":-64.5}],
"tags": [{"p":"A","lat":-50.87,"mdt":-1.37,"t":"(A)"},{"p":"B","lat":-31.96,"mdt":-1.354,"t":"(B)"},{"p":"C","lat":-41.31,"mdt":-1.368,"t":"(C)"}]
},
"vconcat": [
{
"width": 527, "height": 417,
"layer": [
{"data": {"name": "curves"}, "transform": [{"filter": "datum.p === 'A'"}],
 "mark": {"type": "line", "strokeWidth": 2, "interpolate": "monotone", "clip": true},
 "encoding": {
  "x": {"field": "lat", "type": "quantitative", "scale": {"domain": [-70, -50], "nice": false, "zero": false}, "axis": {"orient": "bottom", "values": [-65, -63, -61, -59, -57, -55], "format": "d", "title": "latitude"}},
  "y": {"field": "mdt", "type": "quantitative", "scale": {"domain": [-1.5, 1.5], "nice": false, "zero": false}, "axis": {"orient": "left", "values": [-1.5, -1, -0.5, 0, 0.5, 1, 1.5], "format": "~g", "title": "MDT (m)"}},
  "color": {"field": "m", "type": "nominal", "scale": {"domain": ["SOSE", "CNES-CLS09", "MN05", "GGM02C", "EGM08"], "range": ["#000000", "#e3001b", "#3b54a4", "#0a9a45", "#e0649f"]}, "legend": {"title": null, "labelFont": "Liberation Mono", "labelFontWeight": "bold"}},
  "detail": {"field": "s", "type": "nominal"}
 }},
{"data": {"name": "vlines"}, "transform": [{"filter": "datum.p === 'A'"}],
 "mark": {"type": "rule", "color": "#000", "strokeWidth": 1},
 "encoding": {"x": {"field": "lat", "type": "quantitative", "axis": null}}},
{"data": {"name": "tags"}, "transform": [{"filter": "datum.p === 'A'"}],
 "mark": {"type": "text", "font": "Liberation Sans", "fontSize": 19, "color": "#000", "align": "center", "baseline": "middle"},
 "encoding": {
  "x": {"field": "lat", "type": "quantitative", "axis": {"orient": "top", "values": [-65, -63, -61, -59, -57, -55], "labels": false, "title": null}},
  "y": {"field": "mdt", "type": "quantitative", "axis": {"orient": "right", "values": [-1.5, -1, -0.5, 0, 0.5, 1, 1.5], "labels": false, "title": null}},
  "text": {"field": "t"}
 }}
],
"resolve": {"axis": {"x": "independent", "y": "independent"}}
},
{
"width": 527, "height": 417,
"layer": [
{"data": {"name": "curves"}, "transform": [{"filter": "datum.p === 'B'"}],
 "mark": {"type": "line", "strokeWidth": 2, "interpolate": "monotone", "clip": true},
 "encoding": {
  "x": {"field": "lat", "type": "quantitative", "scale": {"domain": [-75, -30], "nice": false, "zero": false}, "axis": {"orient": "bottom", "values": [-65, -60, -55, -50, -45, -40, -35], "format": "d", "title": "latitude"}},
  "y": {"field": "mdt", "type": "quantitative", "scale": {"domain": [-1.5, 1.5], "nice": false, "zero": false}, "axis": {"orient": "left", "values": [-1.5, -1, -0.5, 0, 0.5, 1, 1.5], "format": "~g", "title": "MDT (m)"}},
  "color": {"field": "m", "type": "nominal", "scale": {"domain": ["SOSE", "CNES-CLS09", "MN05", "GGM02C", "EGM08"], "range": ["#000000", "#e3001b", "#3b54a4", "#0a9a45", "#e0649f"]}, "legend": {"title": null, "labelFont": "Liberation Mono", "labelFontWeight": "bold"}},
  "detail": {"field": "s", "type": "nominal"}
 }},
{"data": {"name": "vlines"}, "transform": [{"filter": "datum.p === 'B'"}],
 "mark": {"type": "rule", "color": "#000", "strokeWidth": 1},
 "encoding": {"x": {"field": "lat", "type": "quantitative", "axis": null}}},
{"data": {"name": "tags"}, "transform": [{"filter": "datum.p === 'B'"}],
 "mark": {"type": "text", "font": "Liberation Sans", "fontSize": 19, "color": "#000", "align": "center", "baseline": "middle"},
 "encoding": {
  "x": {"field": "lat", "type": "quantitative", "axis": {"orient": "top", "values": [-65, -60, -55, -50, -45, -40, -35], "labels": false, "title": null}},
  "y": {"field": "mdt", "type": "quantitative", "axis": {"orient": "right", "values": [-1.5, -1, -0.5, 0, 0.5, 1, 1.5], "labels": false, "title": null}},
  "text": {"field": "t"}
 }}
],
"resolve": {"axis": {"x": "independent", "y": "independent"}}
},
{
"width": 527, "height": 417,
"layer": [
{"data": {"name": "curves"}, "transform": [{"filter": "datum.p === 'C'"}],
 "mark": {"type": "line", "strokeWidth": 2, "interpolate": "monotone", "clip": true},
 "encoding": {
  "x": {"field": "lat", "type": "quantitative", "scale": {"domain": [-70, -40], "nice": false, "zero": false}, "axis": {"orient": "bottom", "values": [-65, -60, -55, -50, -45], "format": "d", "title": "latitude"}},
  "y": {"field": "mdt", "type": "quantitative", "scale": {"domain": [-1.5, 1.5], "nice": false, "zero": false}, "axis": {"orient": "left", "values": [-1.5, -1, -0.5, 0, 0.5, 1, 1.5], "format": "~g", "title": "MDT (m)"}},
  "color": {"field": "m", "type": "nominal", "scale": {"domain": ["SOSE", "CNES-CLS09", "MN05", "GGM02C", "EGM08"], "range": ["#000000", "#e3001b", "#3b54a4", "#0a9a45", "#e0649f"]}, "legend": {"title": null, "labelFont": "Liberation Mono", "labelFontWeight": "bold"}},
  "detail": {"field": "s", "type": "nominal"}
 }},
{"data": {"name": "vlines"}, "transform": [{"filter": "datum.p === 'C'"}],
 "mark": {"type": "rule", "color": "#000", "strokeWidth": 1},
 "encoding": {"x": {"field": "lat", "type": "quantitative", "axis": null}}},
{"data": {"name": "tags"}, "transform": [{"filter": "datum.p === 'C'"}],
 "mark": {"type": "text", "font": "Liberation Sans", "fontSize": 19, "color": "#000", "align": "center", "baseline": "middle"},
 "encoding": {
  "x": {"field": "lat", "type": "quantitative", "axis": {"orient": "top", "values": [-65, -60, -55, -50, -45], "labels": false, "title": null}},
  "y": {"field": "mdt", "type": "quantitative", "axis": {"orient": "right", "values": [-1.5, -1, -0.5, 0, 0.5, 1, 1.5], "labels": false, "title": null}},
  "text": {"field": "t"}
 }}
],
"resolve": {"axis": {"x": "independent", "y": "independent"}}
}
],
"resolve": {"scale": {"color": "independent"}, "legend": {"color": "independent"}},
"config": {
 "view": {"stroke": "#000", "strokeWidth": 1},
 "axis": {"grid": false, "domain": false, "ticks": true, "tickColor": "#000", "tickWidth": 1, "tickSize": -5, "labelFont": "Liberation Mono", "labelFontWeight": "bold", "labelFontSize": 21, "labelColor": "#000", "labelPadding": 8, "titleFont": "Liberation Mono", "titleFontWeight": "bold", "titleFontSize": 23, "titleColor": "#000"},
 "axisX": {"titleBaseline": "alphabetic", "titleY": 40, "labelDx": -5},
 "axisY": {"labelPadding": 9, "titleX": -70, "titleY": 208, "titleBaseline": "middle", "titleFontSize": 22},
 "legend": {"orient": "none", "legendX": 18.5, "legendY": 8, "padding": 0, "symbolType": "M-2.5,0H2.5", "symbolSize": 196, "symbolStrokeWidth": 2.5, "symbolFillColor": "transparent", "labelFont": "Liberation Mono", "labelFontWeight": "bold", "labelFontSize": 21, "labelColor": "#000", "labelOffset": 12.5, "rowPadding": 0}
}
}
